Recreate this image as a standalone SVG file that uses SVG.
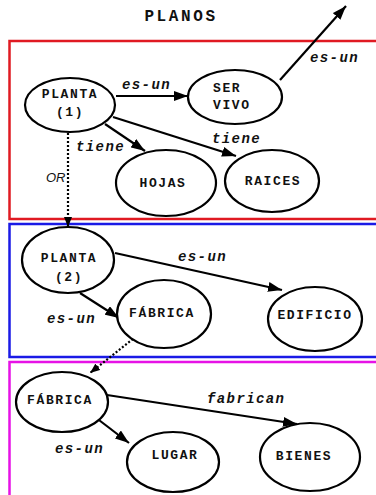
<svg xmlns="http://www.w3.org/2000/svg" width="376" height="495" viewBox="0 0 376 495">
<defs>
<marker id="ah" markerUnits="userSpaceOnUse" markerWidth="14" markerHeight="10" viewBox="0 0 14 10" refX="14" refY="5" orient="auto">
<path d="M0,0 L14,5 L0,10 Z" fill="#000"/>
</marker>
<marker id="ahs" markerUnits="userSpaceOnUse" markerWidth="10" markerHeight="8" viewBox="0 0 10 8" refX="10" refY="4" orient="auto">
<path d="M0,0 L10,4 L0,8 Z" fill="#000"/>
</marker>
</defs>
<style>
.n{fill:#fff;stroke:#000;stroke-width:2.2}
.t{font-family:"Liberation Mono","Courier New",monospace;font-weight:bold;font-size:13px;letter-spacing:1.6px;text-anchor:middle;fill:#111}
.l{font-family:"Liberation Mono","Courier New",monospace;font-weight:bold;font-style:italic;font-size:14px;letter-spacing:1.4px;fill:#111}
.e{stroke:#000;stroke-width:2.2;fill:none;marker-end:url(#ah)}
.d{stroke:#000;stroke-width:2.2;fill:none;stroke-dasharray:2,2;marker-end:url(#ahs)}
.box{fill:none;stroke-width:2.5}
</style>
<rect width="376" height="495" fill="#fff"/>
<text x="181" y="21" class="t" style="font-size:16px;letter-spacing:2.6px">PLANOS</text>
<g id="areas">
<rect class="box" x="9.5" y="41" width="380" height="178" stroke="#e01a22"/>
<rect class="box" x="9.5" y="224" width="380" height="133" stroke="#1a1ae6"/>
<rect class="box" x="9.5" y="362" width="380" height="150" stroke="#e612e6"/>
</g>
<g id="connectors">
<line class="e" x1="116" y1="96" x2="188" y2="96"/>
<line class="e" x1="280" y1="80" x2="346" y2="6"/>
<line class="e" x1="105" y1="124" x2="145" y2="151"/>
<line class="e" x1="113" y1="117" x2="236" y2="156"/>
<line class="d" x1="68" y1="133" x2="68" y2="227"/>
<line class="e" x1="115" y1="253" x2="282" y2="290"/>
<line class="e" x1="80" y1="293" x2="119" y2="318"/>
<line class="d" x1="133" y1="339" x2="90" y2="373"/>
<line class="e" x1="107" y1="395" x2="297" y2="424"/>
<line class="e" x1="95" y1="417" x2="129" y2="443"/>
<text class="l" x="122" y="89">es-un</text>
<text class="l" x="310" y="62">es-un</text>
<text class="l" x="76" y="151">tiene</text>
<text class="l" x="212" y="143">tiene</text>
<text x="46" y="182" style="font-family:'Liberation Sans',Arial,sans-serif;font-style:italic;font-size:13px;fill:#111">OR</text>
<text class="l" x="178" y="261">es-un</text>
<text class="l" x="47" y="323">es-un</text>
<text class="l" x="207" y="403">fabrican</text>
<text class="l" x="55" y="453">es-un</text>
</g>
<g id="planta1"><ellipse class="n" cx="70" cy="105" rx="45" ry="27"/><text class="t" x="70" y="98">PLANTA</text><text class="t" x="70" y="116">(1)</text></g>
<g id="servivo"><ellipse class="n" cx="235" cy="97" rx="47" ry="27"/><text class="t" x="213" y="92" style="text-anchor:start">SER</text><text class="t" x="213" y="109" style="text-anchor:start">VIVO</text></g>
<g id="hojas"><ellipse class="n" cx="166" cy="183" rx="50" ry="33"/><text class="t" x="163" y="187">HOJAS</text></g>
<g id="raices"><ellipse class="n" cx="272" cy="181" rx="47" ry="31"/><text class="t" x="273" y="185">RAICES</text></g>
<g id="planta2"><ellipse class="n" cx="68" cy="260" rx="46" ry="33"/><text class="t" x="69" y="262">PLANTA</text><text class="t" x="69" y="281">(2)</text></g>
<g id="fabrica1"><ellipse class="n" cx="164" cy="314" rx="47" ry="34"/><text class="t" x="162" y="317">FÁBRICA</text></g>
<g id="edificio"><ellipse class="n" cx="315" cy="319" rx="47" ry="32"/><text class="t" x="315" y="319">EDIFICIO</text></g>
<g id="fabrica2"><ellipse class="n" cx="62" cy="402" rx="46" ry="30"/><text class="t" x="60" y="404">FÁBRICA</text></g>
<g id="lugar"><ellipse class="n" cx="173" cy="462" rx="46" ry="30"/><text class="t" x="175" y="459">LUGAR</text></g>
<g id="bienes"><ellipse class="n" cx="310" cy="457" rx="50" ry="34"/><text class="t" x="304" y="460">BIENES</text></g>
</svg>
